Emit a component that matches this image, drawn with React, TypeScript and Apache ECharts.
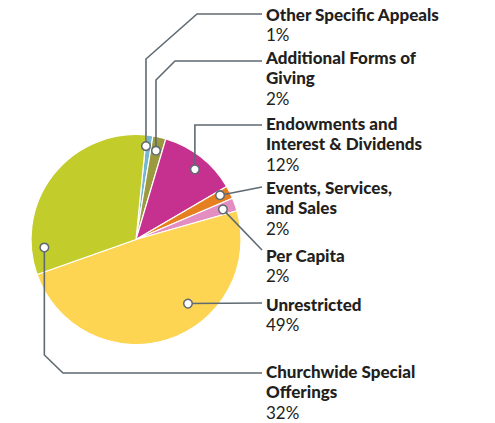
import React, { useEffect, useRef } from "react";
import * as echarts from "echarts";

// ---- data ----
const categories = [
  "Other Specific Appeals",
  "Additional Forms of\nGiving",
  "Endowments and\nInterest & Dividends",
  "Events, Services,\nand Sales",
  "Per Capita",
  "Unrestricted",
  "Churchwide Special\nOfferings",
];
const values = [1, 2, 12, 2, 2, 49, 32];
const colors = ["#76b7d0", "#9c9a3e", "#c6318f", "#e57f1f", "#e48dc1", "#fed453", "#c2cc2a"];

// ---- layout (annotation positions, not data) ----
const CX = 136;
const CY = 239.5;
const R = 105;
const START_CW = 5.7; // degrees clockwise from 12 o'clock where first slice begins
const anchorFrac = [0.11, 0.47, 0.544, 0.35, 0.55, 0.379, 0.126];
const anchorR = [94, 91, 91.6, 95, 92, 82.5, 92];
// leader waypoints after anchor; null x means "same x as anchor"
const leaderPts: Array<Array<[number | null, number]>> = [
  [[null, 59], [197, 14], [262, 14]],
  [[null, 80], [175, 61], [262, 61]],
  [[null, 125], [262, 125]],
  [[262, 187]],
  [[262, 250]],
  [[262, 303]],
  [[null, 355], [63, 373], [262, 373]],
];
const labelFirstY = [14, 57.5, 123.5, 187.5, 255, 304, 371.5];
const LABEL_X = 266;
const LINE_H = 20.4;
const LINE_COLOR = "#5f6a72";
const TEXT_COLOR = "#231f20";
const FONT = "Lato, 'Open Sans', sans-serif";

export default function App() {
  const ref = useRef<HTMLDivElement>(null);
  useEffect(() => {
    if (!ref.current) return;
    const chart = echarts.init(ref.current, undefined, { renderer: "svg" });
    const total = values.reduce((a, b) => a + b, 0);
    const graphics: any[] = [];
    let cum = 0;
    values.forEach((v, i) => {
      const startDeg = START_CW + (cum / total) * 360;
      const span = (v / total) * 360;
      cum += v;
      const a = ((startDeg + anchorFrac[i] * span) * Math.PI) / 180;
      const ax = CX + anchorR[i] * Math.sin(a);
      const ay = CY - anchorR[i] * Math.cos(a);
      const pts: number[][] = [[ax, ay]];
      leaderPts[i].forEach(([x, y]) => pts.push([x === null ? ax : x, y]));
      graphics.push({
        type: "polyline",
        z: 10,
        shape: { points: pts },
        style: { stroke: LINE_COLOR, lineWidth: 1.6, fill: null },
        silent: true,
      });
      graphics.push({
        type: "circle",
        z: 11,
        shape: { cx: ax, cy: ay, r: 4.3 },
        style: { fill: "#ffffff", stroke: LINE_COLOR, lineWidth: 1.5 },
        silent: true,
      });
      const nameLines = categories[i].split("\n");
      const txt = nameLines.map((l) => `{b|${l}}`).join("\n") + `\n{p|${v}%}`;
      graphics.push({
        type: "text",
        z: 12,
        x: LABEL_X,
        y: labelFirstY[i] - LINE_H / 2,
        style: {
          text: txt,
          verticalAlign: "top",
          align: "left",
          rich: {
            b: { fontFamily: FONT, fontWeight: 900, fontSize: 17, lineHeight: LINE_H, fill: TEXT_COLOR },
            p: { fontFamily: FONT, fontWeight: "normal", fontSize: 17, lineHeight: LINE_H, fill: TEXT_COLOR },
          },
        },
        silent: true,
      });
    });

    chart.setOption({
      animation: false,
      backgroundColor: "#ffffff",
      series: [
        {
          type: "pie",
          center: [CX, CY],
          radius: R,
          startAngle: 90 - START_CW,
          clockwise: true,
          label: { show: false },
          labelLine: { show: false },
          emphasis: { disabled: true },
          itemStyle: { borderColor: "#ffffff", borderWidth: 1.2 },
          data: categories.map((c, i) => ({ name: c, value: values[i], itemStyle: { color: colors[i] } })),
        },
      ],
      graphic: graphics,
    });
    return () => chart.dispose();
  }, []);
  return (
    <div
      ref={ref}
      style={{ position: "fixed", left: 0, top: 0, width: 495, height: 423, background: "#fff" }}
    />
  );
}
